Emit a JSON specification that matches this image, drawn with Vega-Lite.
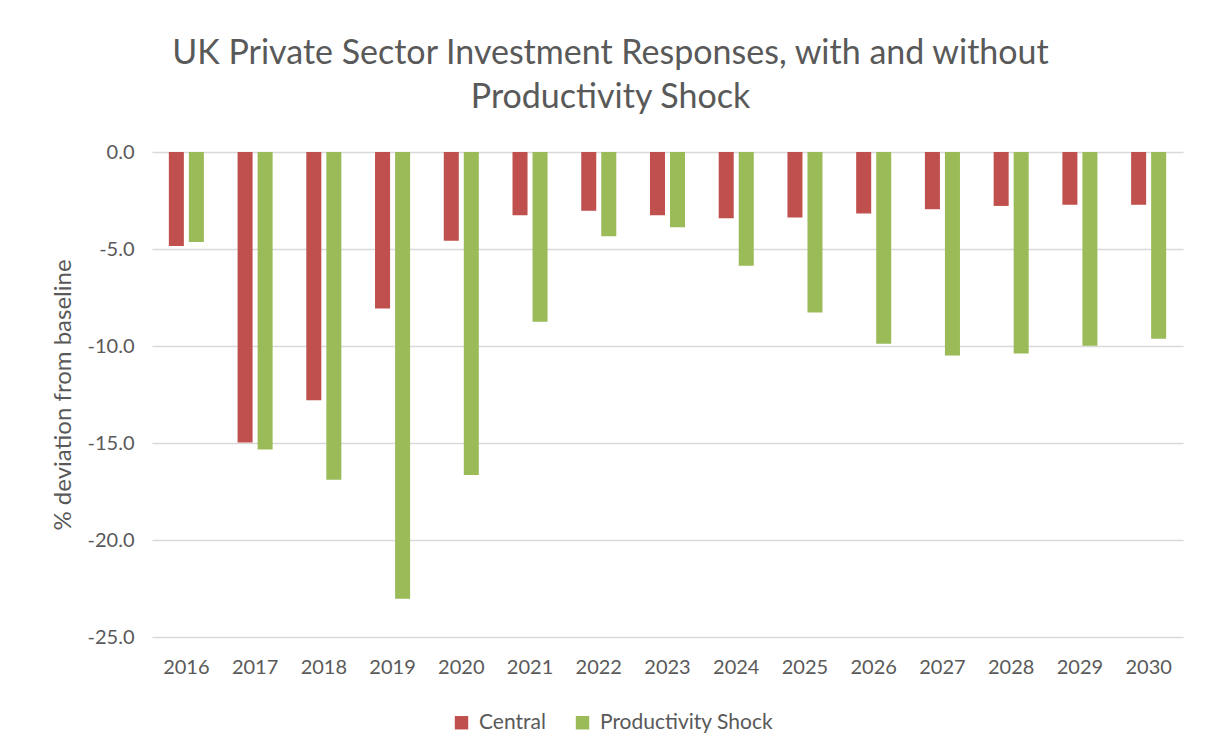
{
  "$schema": "https://vega.github.io/schema/vega-lite/v6.json",
  "width": 1031,
  "height": 485,
  "autosize": {"type": "none"},
  "padding": {"left": 152, "top": 152, "right": 22, "bottom": 119},
  "background": "white",
  "title": {
    "text": ["UK Private Sector Investment Responses, with and without", "Productivity Shock"],
    "anchor": "middle",
    "frame": "group",
    "dx": -57,
    "offset": 27,
    "font": "Lato",
    "fontSize": 34,
    "fontWeight": "normal",
    "color": "#595959",
    "lineHeight": 44
  },
  "data": {
    "values": [
      {"year": "2016", "series": "Central", "value": -4.84},
      {"year": "2016", "series": "Productivity Shock", "value": -4.64},
      {"year": "2017", "series": "Central", "value": -14.97},
      {"year": "2017", "series": "Productivity Shock", "value": -15.33},
      {"year": "2018", "series": "Central", "value": -12.8},
      {"year": "2018", "series": "Productivity Shock", "value": -16.9},
      {"year": "2019", "series": "Central", "value": -8.07},
      {"year": "2019", "series": "Productivity Shock", "value": -23.03},
      {"year": "2020", "series": "Central", "value": -4.57},
      {"year": "2020", "series": "Productivity Shock", "value": -16.65},
      {"year": "2021", "series": "Central", "value": -3.26},
      {"year": "2021", "series": "Productivity Shock", "value": -8.75},
      {"year": "2022", "series": "Central", "value": -3.03},
      {"year": "2022", "series": "Productivity Shock", "value": -4.34},
      {"year": "2023", "series": "Central", "value": -3.26},
      {"year": "2023", "series": "Productivity Shock", "value": -3.88},
      {"year": "2024", "series": "Central", "value": -3.41},
      {"year": "2024", "series": "Productivity Shock", "value": -5.86},
      {"year": "2025", "series": "Central", "value": -3.38},
      {"year": "2025", "series": "Productivity Shock", "value": -8.27},
      {"year": "2026", "series": "Central", "value": -3.17},
      {"year": "2026", "series": "Productivity Shock", "value": -9.89},
      {"year": "2027", "series": "Central", "value": -2.95},
      {"year": "2027", "series": "Productivity Shock", "value": -10.49},
      {"year": "2028", "series": "Central", "value": -2.78},
      {"year": "2028", "series": "Productivity Shock", "value": -10.39},
      {"year": "2029", "series": "Central", "value": -2.72},
      {"year": "2029", "series": "Productivity Shock", "value": -9.99},
      {"year": "2030", "series": "Central", "value": -2.72},
      {"year": "2030", "series": "Productivity Shock", "value": -9.63}
    ]
  },
  "mark": {"type": "bar"},
  "encoding": {
    "x": {
      "field": "year",
      "type": "nominal",
      "scale": {"paddingInner": 0.49, "paddingOuter": 0.245},
      "axis": {
        "title": null,
        "labelAngle": 0,
        "domain": false,
        "ticks": false,
        "grid": false,
        "labelPadding": 20,
        "labelFont": "Lato",
        "labelFontSize": 20,
        "labelColor": "#595959"
      }
    },
    "xOffset": {
      "field": "series",
      "type": "nominal",
      "scale": {"paddingInner": 0.25, "paddingOuter": 0}
    },
    "y": {
      "field": "value",
      "type": "quantitative",
      "scale": {"domain": [-25, 0], "nice": false, "zero": false},
      "axis": {
        "title": "% deviation from baseline",
        "values": [0, -5, -10, -15, -20, -25],
        "labelExpr": "replace(format(datum.value, '.1f'), '\u2212', '-')",
        "domain": false,
        "ticks": false,
        "grid": true,
        "gridColor": "#D9D9D9",
        "gridWidth": 1.5,
        "labelPadding": 18,
        "labelFont": "Lato",
        "labelFontSize": 20,
        "labelColor": "#595959",
        "titleFont": "Lato",
        "titleFontSize": 24,
        "titleFontWeight": "normal",
        "titleColor": "#595959",
        "titlePadding": 12
      }
    },
    "color": {
      "field": "series",
      "type": "nominal",
      "scale": {"domain": ["Central", "Productivity Shock"], "range": ["#C0504D", "#9BBB59"]},
      "legend": {
        "title": null,
        "orient": "none",
        "legendX": 299,
        "legendY": 560,
        "direction": "horizontal",
        "symbolType": "square",
        "symbolSize": 180,
        "symbolStrokeWidth": 0,
        "labelFont": "Lato",
        "labelFontSize": 21,
        "labelColor": "#595959",
        "labelLimit": 400,
        "columnPadding": 26,
        "labelOffset": 7
      }
    }
  },
  "config": {
    "view": {"stroke": null}
  }
}
